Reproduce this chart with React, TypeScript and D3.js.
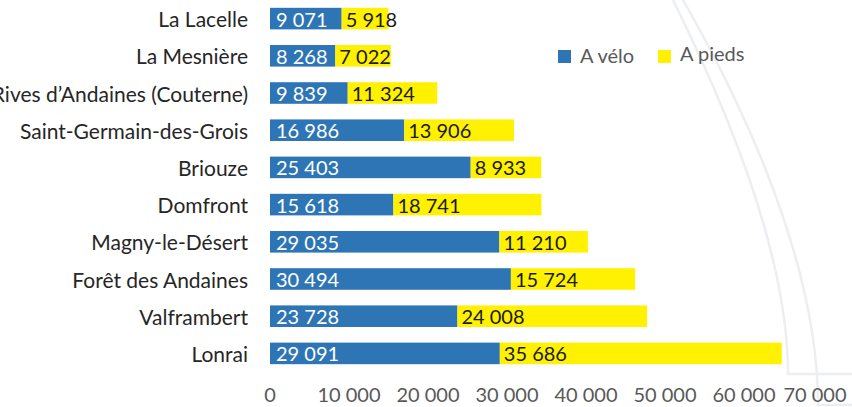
import React from "react";
import * as d3 from "d3";

const categories = [
  "La Lacelle",
  "La Mesnière",
  "Rives d’Andaines (Couterne)",
  "Saint-Germain-des-Grois",
  "Briouze",
  "Domfront",
  "Magny-le-Désert",
  "Forêt des Andaines",
  "Valframbert",
  "Lonrai",
];
const veloValues = [9071, 8268, 9839, 16986, 25403, 15618, 29035, 30494, 23728, 29091];
const piedsValues = [5918, 7022, 11324, 13906, 8933, 18741, 11210, 15724, 24008, 35686];
const seriesNames = ["A vélo", "A pieds"];
const tickValues = [0, 10000, 20000, 30000, 40000, 50000, 60000, 70000];

const W = 852;
const H = 407;
const BLUE = "#2E75B6";
const YELLOW = "#FFF100";
const FONT = "Lato, 'Open Sans', sans-serif";

const fmt = (v: number) => d3.format(",")(v).replace(/,/g, " ");

export default function App() {
  const x = d3.scaleLinear().domain([0, 70000]).range([270, 823]);
  const y = d3
    .scaleBand<string>()
    .domain(categories)
    .range([0, 372])
    .paddingInner(0.42)
    .paddingOuter(0.21);
  const bw = y.bandwidth();

  const arcA = d3.path();
  arcA.moveTo(673, 0);
  arcA.bezierCurveTo(720, 95, 788, 250, 788, 374);
  arcA.lineTo(852, 374);
  const arcB = d3.path();
  arcB.moveTo(683, 0);
  arcB.bezierCurveTo(740, 100, 818, 260, 818, 405);
  arcB.lineTo(852, 405);

  return (
    <svg
      width={W}
      height={H}
      style={{ position: "absolute", left: 0, top: 0, background: "#fff" }}
      fontFamily={FONT}
    >
      <path d={arcA.toString()} fill="none" stroke="#ECEEF1" strokeWidth={2.5} />
      <path d={arcB.toString()} fill="none" stroke="#ECEEF1" strokeWidth={2.5} />

      {categories.map((c, i) => {
        const yy = y(c)!;
        const v = veloValues[i];
        const p = piedsValues[i];
        const cy = yy + bw / 2;
        return (
          <g key={c}>
            <text
              x={248}
              y={cy}
              textAnchor="end"
              dominantBaseline="central"
              fontSize={21}
              fill="#262626"
            >
              {c}
            </text>
            <rect x={x(0)} y={yy} width={x(v) - x(0)} height={bw} fill={BLUE} />
            <rect x={x(v)} y={yy} width={x(v + p) - x(v)} height={bw} fill={YELLOW} />
            <text
              x={x(0) + 6}
              y={cy}
              dominantBaseline="central"
              fontSize={20}
              fill="#ffffff"
            >
              {fmt(v)}
            </text>
            <text
              x={x(v) + 4}
              y={cy}
              dominantBaseline="central"
              fontSize={20}
              fill="#1a1a1a"
            >
              {fmt(p)}
            </text>
          </g>
        );
      })}

      {tickValues.map((t) => (
        <text
          key={t}
          x={Math.min(x(t), 815)}
          y={402}
          textAnchor="middle"
          fontSize={20}
          fill="#595959"
        >
          {fmt(t)}
        </text>
      ))}

      <g>
        <rect x={558} y={50} width={13} height={13} fill={BLUE} />
        <text x={580} y={63} fontSize={20} fill="#595959">
          {seriesNames[0]}
        </text>
        <rect x={658} y={50} width={13} height={13} fill={YELLOW} />
        <text x={680} y={61} fontSize={20} fill="#595959">
          {seriesNames[1]}
        </text>
      </g>
    </svg>
  );
}
